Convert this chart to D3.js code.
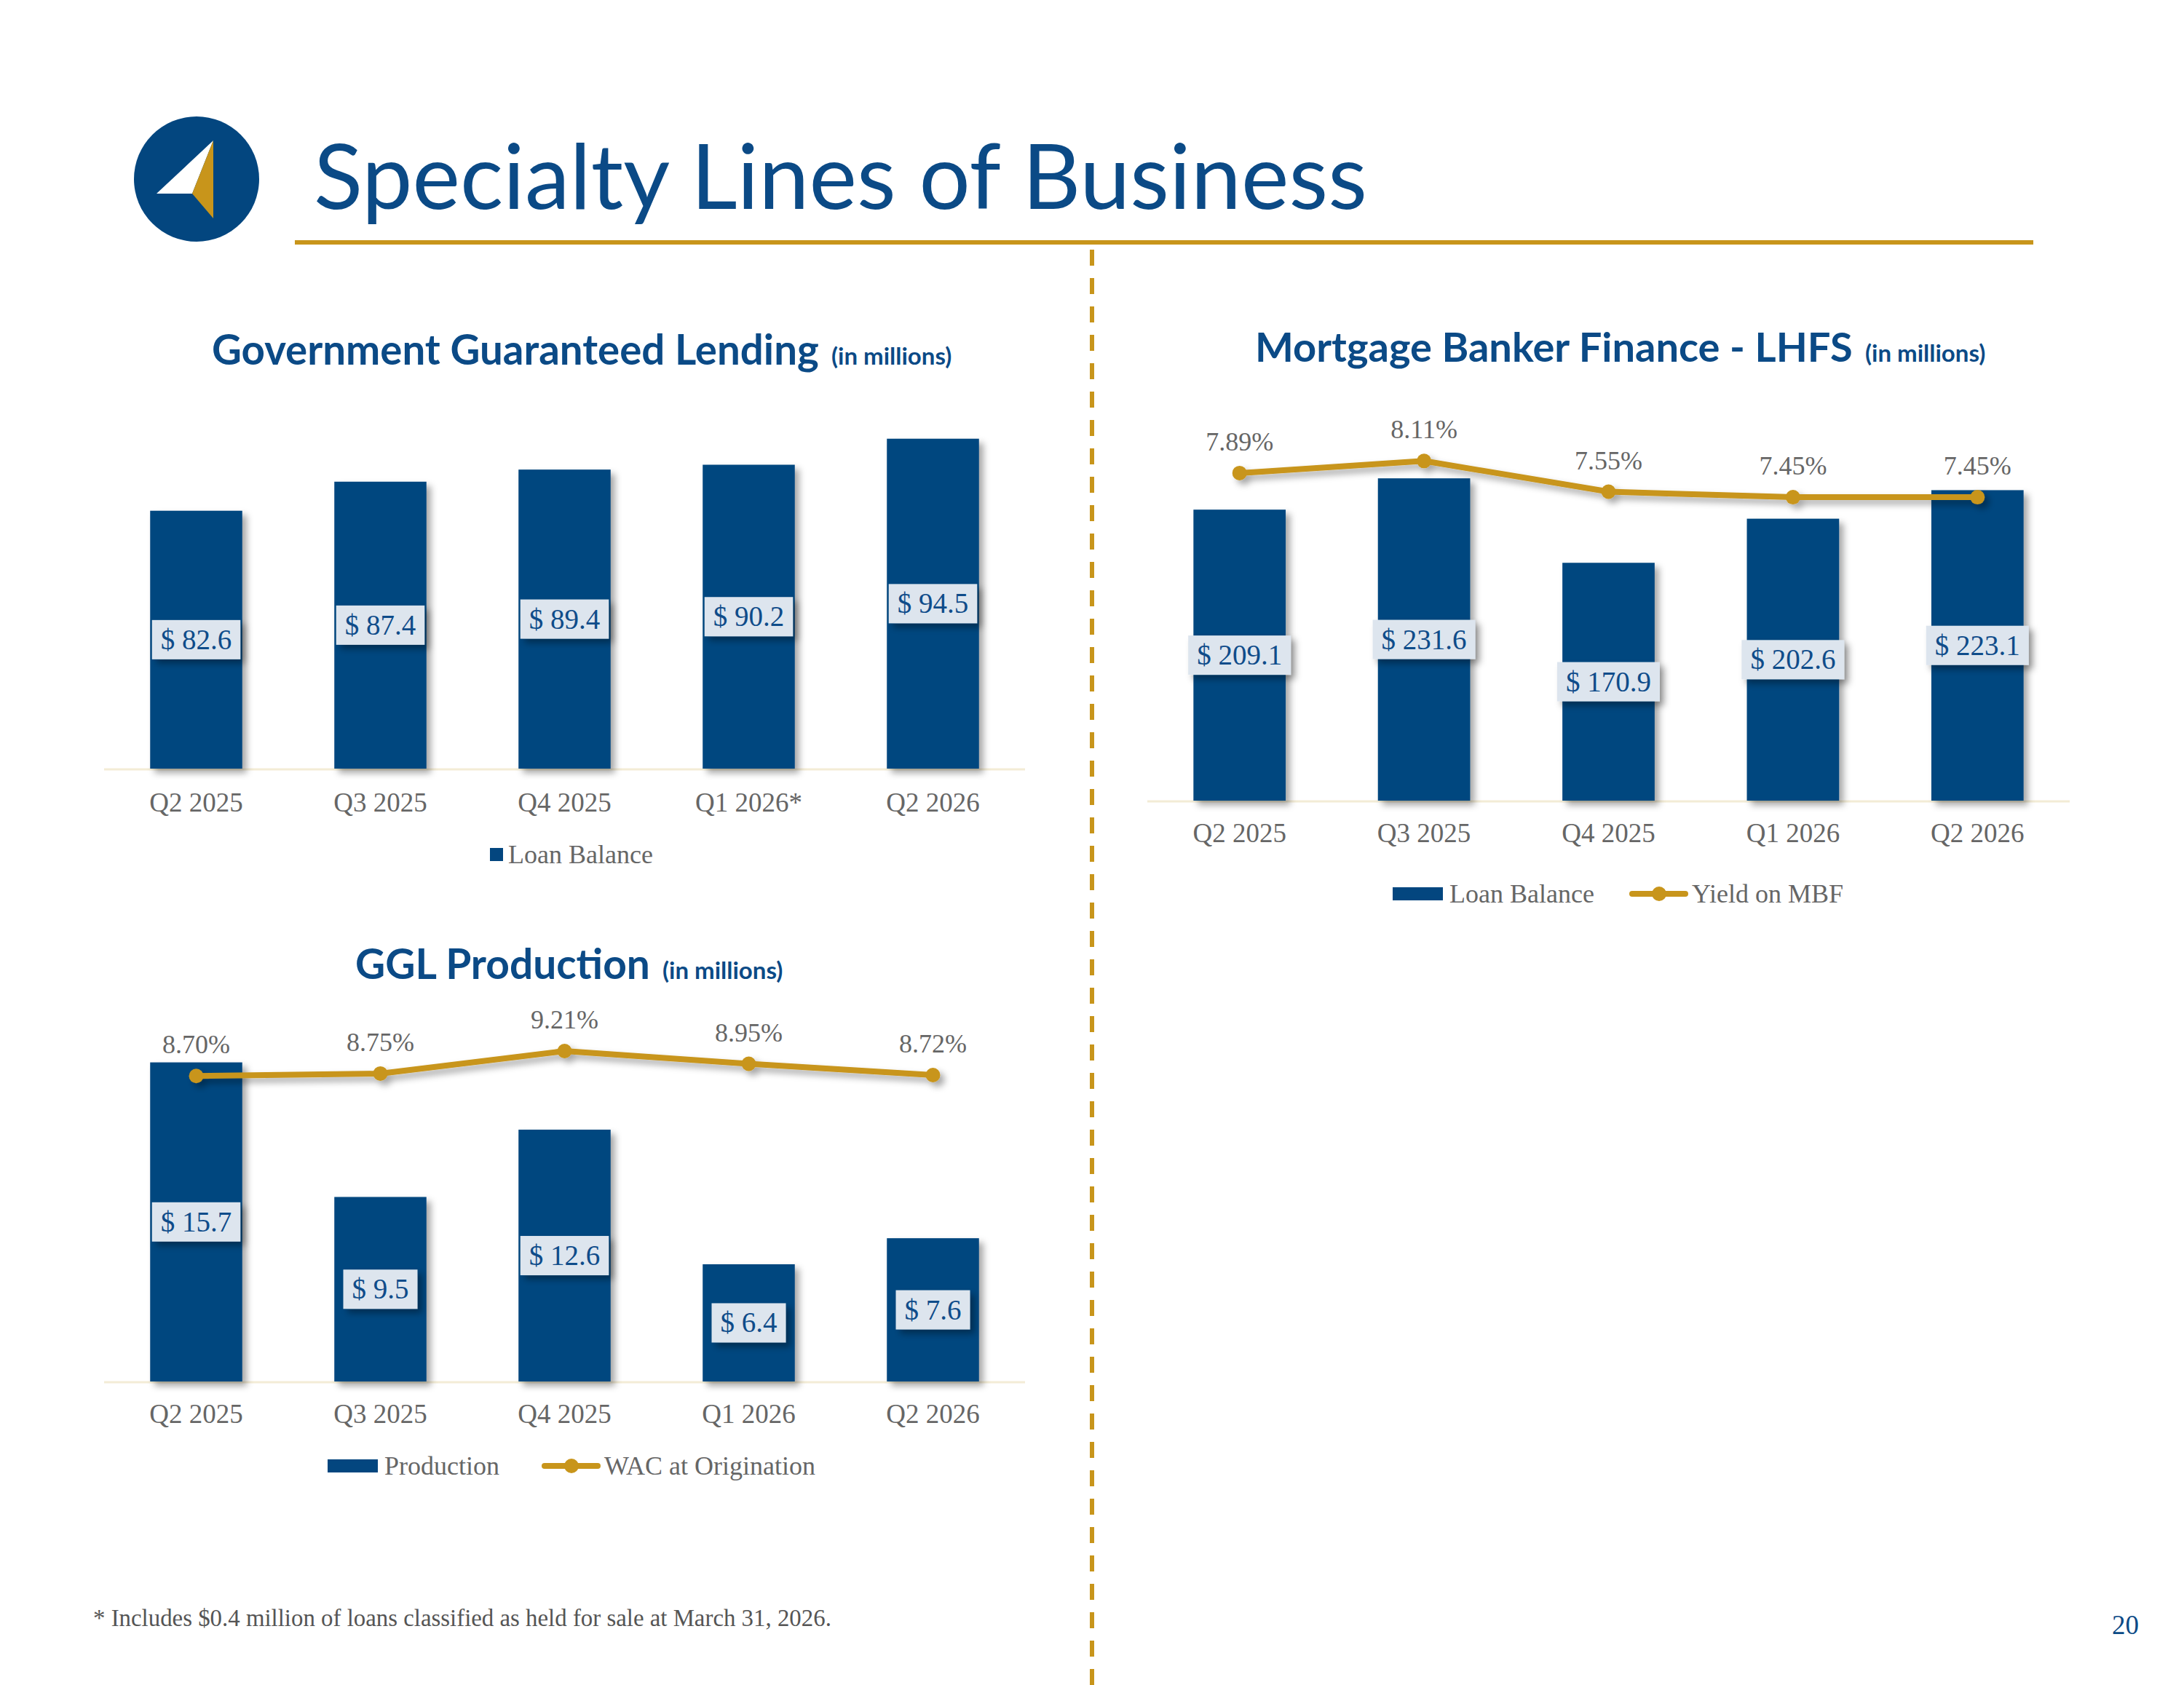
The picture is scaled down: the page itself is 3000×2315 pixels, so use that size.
<!DOCTYPE html>
<html>
<head>
<meta charset="utf-8">
<script src="https://cdn.jsdelivr.net/npm/d3@7"></script>
<style>
  body { margin: 0; background: #ffffff; }
  svg { display: block; }
</style>
</head>
<body>
<svg width="3000" height="2315"></svg>
<script>
// data
var quarters = ["Q2 2025", "Q3 2025", "Q4 2025", "Q1 2026", "Q2 2026"];
var gglQuarters = ["Q2 2025", "Q3 2025", "Q4 2025", "Q1 2026*", "Q2 2026"];
var gglBalance = [82.6, 87.4, 89.4, 90.2, 94.5];
var gglProduction = [15.7, 9.5, 12.6, 6.4, 7.6];
var gglWac = [8.70, 8.75, 9.21, 8.95, 8.72];
var mbfBalance = [209.1, 231.6, 170.9, 202.6, 223.1];
var mbfYield = [7.89, 8.11, 7.55, 7.45, 7.45];

var blue = "#03467f";
var titleBlue = "#0b4a86";
var gold = "#c8951b";
var grey = "#666666";
var serif = "'Liberation Serif', 'DejaVu Serif', serif";
var sans = "Lato, 'Open Sans', sans-serif";

svg = d3.select("svg");

defs = svg.append("defs");
defs.append("filter")
  .attr("id", "shadow")
  .attr("x", "-20%").attr("y", "-20%")
  .attr("width", "160%").attr("height", "160%")
  .append("feDropShadow")
  .attr("dx", 6).attr("dy", 6)
  .attr("stdDeviation", 5)
  .attr("flood-color", "#000")
  .attr("flood-opacity", 0.35);

// ---- header ----
logo = svg.append("g");
logo.append("circle").attr("cx", 270).attr("cy", 246).attr("r", 86).attr("fill", blue);
logo.append("path").attr("d", "M293,193 L215,266 L264,266 Z").attr("fill", "#ffffff");
logo.append("path").attr("d", "M293,193 L264,266 L293,300 Z").attr("fill", gold);

title = svg.append("text")
  .attr("x", 431).attr("y", 287)
  .attr("font-family", sans)
  .attr("font-size", 128)
  .attr("fill", titleBlue)
  .text("Specialty Lines of Business");
fitWidth(title, 1447);

svg.append("line")
  .attr("x1", 405).attr("x2", 2793)
  .attr("y1", 333).attr("y2", 333)
  .attr("stroke", gold).attr("stroke-width", 6);

svg.append("line")
  .attr("x1", 1500).attr("x2", 1500)
  .attr("y1", 343).attr("y2", 2315)
  .attr("stroke", gold).attr("stroke-width", 6)
  .attr("stroke-dasharray", "22,17");

// footnote + page number
foot = svg.append("text")
  .attr("x", 128).attr("y", 2234)
  .attr("font-family", serif).attr("font-size", 32)
  .attr("fill", "#555555")
  .text("* Includes $0.4 million of loans classified as held for sale at March 31, 2026.");
fitWidth(foot, 1014);

svg.append("text")
  .attr("x", 2938).attr("y", 2245)
  .attr("text-anchor", "end")
  .attr("font-family", serif).attr("font-size", 37)
  .attr("fill", titleBlue)
  .text("20");

// ---- charts ----
drawChart({
  cats: gglQuarters, bars: gglBalance, line: null,
  x0: 143, x1: 1408, axisY: 1056,
  barDomain: [40, 100], top: 557,
  title: "Government Guaranteed Lending", titleW: 834, titleX: 291, titleY: 501,
  catY: 1125, legendY: 1174,
  legend: [{ kind: "square", x: 673, label: "Loan Balance" }]
});

drawChart({
  cats: quarters, bars: mbfBalance, line: mbfYield,
  x0: 1576, x1: 2843, axisY: 1100,
  barDomain: [0, 250], lineDomain: [1.92, 8.26], top: 622,
  title: "Mortgage Banker Finance - LHFS", titleW: 821, titleX: 1724, titleY: 497,
  catY: 1167, legendY: 1228,
  legend: [{ kind: "rect", x: 1913, label: "Loan Balance" },
           { kind: "line", x: 2242, label: "Yield on MBF" }]
});

drawChart({
  cats: quarters, bars: gglProduction, line: gglWac,
  x0: 143, x1: 1408, axisY: 1898,
  barDomain: [1, 18], lineDomain: [2.45, 10.0], top: 1391,
  title: "GGL Production", titleW: 405, titleX: 488, titleY: 1345,
  catY: 1965, legendY: 2014,
  legend: [{ kind: "rect", x: 450, label: "Production" },
           { kind: "line", x: 748, label: "WAC at Origination" }]
});

function fitWidth(sel, w) {
  var len = sel.node().getComputedTextLength();
  var fs = +sel.attr("font-size");
  sel.attr("font-size", fs * w / len);
}

function drawChart(c) {
  var g = svg.append("g");

  var xScale = d3.scaleBand()
    .domain(c.cats)
    .range([c.x0, c.x1])
    .paddingInner(0.5)
    .paddingOuter(0.25);

  var yScale = d3.scaleLinear()
    .domain(c.barDomain)
    .range([c.axisY, c.top]);

  // title, main part fitted to the measured width
  var t = g.append("text")
    .attr("x", c.titleX).attr("y", c.titleY)
    .attr("font-family", sans)
    .attr("font-weight", "bold")
    .attr("font-size", 55)
    .attr("fill", titleBlue)
    .text(c.title);
  fitWidth(t, c.titleW);
  g.append("text")
    .attr("x", c.titleX + c.titleW + 17).attr("y", c.titleY)
    .attr("font-family", sans)
    .attr("font-weight", "bold")
    .attr("font-size", 33)
    .attr("fill", titleBlue)
    .text("(in millions)");

  // axis baseline
  g.append("line")
    .attr("x1", c.x0).attr("x2", c.x1)
    .attr("y1", c.axisY + 1).attr("y2", c.axisY + 1)
    .attr("stroke", "#f3ecd6").attr("stroke-width", 3);

  // bars
  g.selectAll("rect.bar")
    .data(c.bars)
    .enter()
    .append("rect")
    .attr("class", "bar")
    .attr("x", function (d, i) { return xScale(c.cats[i]) })
    .attr("width", xScale.bandwidth())
    .attr("y", function (d) { return yScale(d) })
    .attr("height", function (d) { return c.axisY - yScale(d) })
    .attr("fill", blue)
    .attr("filter", "url(#shadow)");

  // category labels
  var xAxis = d3.axisBottom(xScale).tickSize(0).tickPadding(0);
  var ax = g.append("g")
    .attr("transform", "translate(0," + (c.catY - 10) + ")")
    .call(xAxis);
  ax.select(".domain").remove();
  ax.selectAll("text")
    .attr("font-family", serif)
    .attr("font-size", 37)
    .attr("fill", grey)
    .attr("dy", 0);

  // line series
  if (c.line) {
    var lScale = d3.scaleLinear()
      .domain(c.lineDomain)
      .range([c.axisY, c.top]);
    var cx = function (d, i) { return xScale(c.cats[i]) + xScale.bandwidth() / 2 };

    var lineGen = d3.line()
      .x(cx)
      .y(function (d) { return lScale(d) });

    var lg = g.append("g").attr("filter", "url(#shadow)");
    lg.append("path")
      .attr("d", lineGen(c.line))
      .attr("fill", "none")
      .attr("stroke", gold)
      .attr("stroke-width", 8)
      .attr("stroke-linejoin", "round");
    lg.selectAll("circle")
      .data(c.line)
      .enter()
      .append("circle")
      .attr("cx", cx)
      .attr("cy", function (d) { return lScale(d) })
      .attr("r", 10)
      .attr("fill", gold);

    g.selectAll("text.pct")
      .data(c.line)
      .enter()
      .append("text")
      .attr("class", "pct")
      .attr("x", cx)
      .attr("y", function (d) { return lScale(d) - 31 })
      .attr("text-anchor", "middle")
      .attr("font-family", serif)
      .attr("font-size", 36)
      .attr("fill", grey)
      .text(function (d) { return d.toFixed(2) + "%" });
  }

  // value labels in boxes at bar middle
  c.bars.forEach(function (d, i) {
    var mx = xScale(c.cats[i]) + xScale.bandwidth() / 2;
    var my = (yScale(d) + c.axisY) / 2;
    var lab = g.append("g");
    var box = lab.append("rect")
      .attr("fill", "#dde5ee")
      .attr("filter", "url(#shadow)");
    var txt = lab.append("text")
      .attr("x", mx).attr("y", my + 13)
      .attr("text-anchor", "middle")
      .attr("font-family", serif)
      .attr("font-size", 39)
      .attr("fill", "#0f4c8a")
      .text("$ " + d.toFixed(1));
    var w = txt.node().getComputedTextLength() + 24;
    box.attr("x", mx - w / 2).attr("y", my - 27)
      .attr("width", w).attr("height", 54);
  });

  // legend
  c.legend.forEach(function (l) {
    var tx;
    if (l.kind == "square") {
      g.append("rect").attr("x", l.x).attr("y", c.legendY - 9)
        .attr("width", 18).attr("height", 18).attr("fill", blue);
      tx = l.x + 25;
    } else if (l.kind == "rect") {
      g.append("rect").attr("x", l.x).attr("y", c.legendY - 9)
        .attr("width", 69).attr("height", 18).attr("fill", blue);
      tx = l.x + 78;
    } else {
      g.append("line").attr("x1", l.x).attr("x2", l.x + 73)
        .attr("y1", c.legendY).attr("y2", c.legendY)
        .attr("stroke", gold).attr("stroke-width", 8)
        .attr("stroke-linecap", "round");
      g.append("circle").attr("cx", l.x + 37).attr("cy", c.legendY)
        .attr("r", 10).attr("fill", gold);
      tx = l.x + 82;
    }
    g.append("text")
      .attr("x", tx).attr("y", c.legendY + 12)
      .attr("font-family", serif)
      .attr("font-size", 36)
      .attr("fill", grey)
      .text(l.label);
  });
}
</script>
</body>
</html>
